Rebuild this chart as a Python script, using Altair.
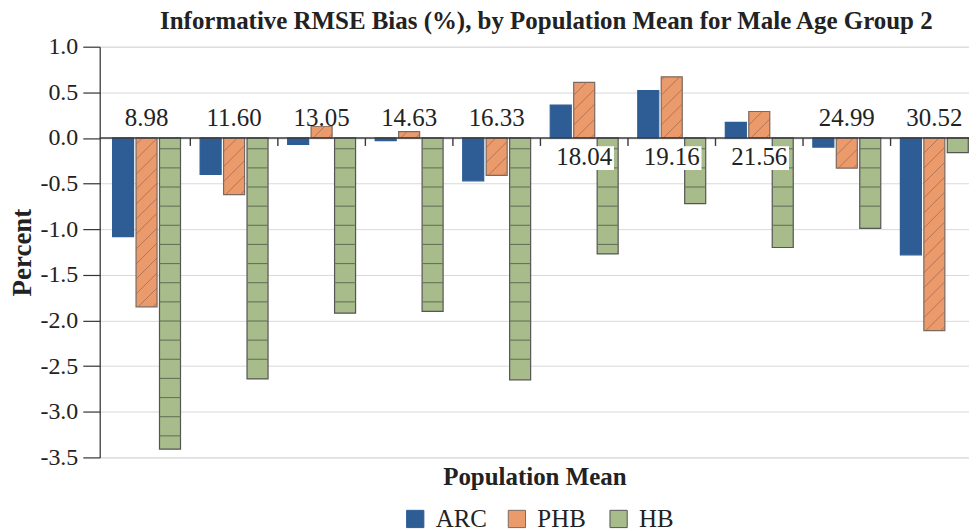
import altair as alt
import pandas as pd

# ---------------- data ----------------
categories = ["8.98", "11.60", "13.05", "14.63", "16.33", "18.04", "19.16", "21.56", "24.99", "30.52"]
series = ["ARC", "PHB", "HB"]
arc = [-1.08, -0.40, -0.07, -0.03, -0.47, 0.36, 0.52, 0.17, -0.10, -1.28]
phb = [-1.85, -0.62, 0.13, 0.07, -0.41, 0.61, 0.67, 0.29, -0.33, -2.11]
hb = [-3.41, -2.64, -1.92, -1.90, -2.65, -1.27, -0.72, -1.20, -0.99, -0.16]
label_above = [True, True, True, True, True, False, False, False, True, True]
y_ticks = [1.0, 0.5, 0.0, -0.5, -1.0, -1.5, -2.0, -2.5, -3.0, -3.5]

# ---------------- style ----------------
fills = ["#2e5c94", "#eb9a6c", "#a7bb8b"]
strokes = ["#2e5c94", "#7a6a60", "#555555"]
FONT = "Liberation Serif"
W, H = 872, 412
Y_DOM = [-3.5, 1.0]
X_DOM = [-0.035, 9.896]
PX_X = W / (X_DOM[1] - X_DOM[0])
PX_Y = H / (Y_DOM[1] - Y_DOM[0])
OFFS = {"ARC": -0.268, "PHB": 0.0, "HB": 0.268}
HALF = 0.12

# ---------------- derived tables ----------------
rows = []
for i, c in enumerate(categories):
    for s, vals in zip(series, [arc, phb, hb]):
        xc = i + 0.5 + OFFS[s]
        rows.append(dict(cat=c, series=s, x0=xc - HALF, x1=xc + HALF, y0=0.0, y1=vals[i]))
bars = pd.DataFrame(rows)

# diagonal hatch for PHB
hatch = []
w_px = 2 * HALF * PX_X
SP = 15.0
for i, v in enumerate(phb):
    xl = i + 0.5 + OFFS["PHB"] - HALF
    hpx = abs(v) * PX_Y
    yb = min(0.0, v)
    c = -w_px + 4
    while c < hpx:
        u0 = max(0.0, -c)
        u1 = min(w_px, hpx - c)
        if u1 - u0 > 1.0:
            hatch.append(dict(hx0=xl + u0 / PX_X, hx1=xl + u1 / PX_X,
                              hy0=yb + (c + u0) / PX_Y, hy1=yb + (c + u1) / PX_Y))
        c += SP
hatch = pd.DataFrame(hatch)

# horizontal lines for HB
hl = []
for i, v in enumerate(hb):
    xc = i + 0.5 + OFFS["HB"]
    d = 10.8
    while d < abs(v) * PX_Y - 5:
        hl.append(dict(lx0=xc - HALF, lx1=xc + HALF, ly=-d / PX_Y if v < 0 else d / PX_Y))
        d += 19.2
hl = pd.DataFrame(hl)

bounds = pd.DataFrame({"b": [float(k) for k in range(1, len(categories))]})
bounds["t0"] = 0.0
bounds["t1"] = -8.0 / PX_Y

labels = pd.DataFrame({
    "cat": categories,
    "lx": [i + 0.5 for i in range(len(categories))],
    "ly": [0.22 if a else -0.21 for a in label_above],
})
labels["bx0"] = labels["lx"] - 0.34
labels["bx1"] = labels["lx"] + 0.34
labels["by0"] = [0.13 if a else -0.35 for a in label_above]
labels["by1"] = [0.36 if a else -0.09 for a in label_above]

# ---------------- encodings ----------------
xscale = alt.Scale(domain=X_DOM, nice=False, zero=False)
yscale = alt.Scale(domain=Y_DOM, nice=False, zero=False)
xaxis = alt.Axis(title="Population Mean", labels=False, ticks=False, domain=False, grid=False,
                 titleFont=FONT, titleFontSize=25, titleFontWeight="bold", titleColor="#222",
                 titlePadding=7)
yaxis = alt.Axis(title="Percent", values=y_ticks,
                 labelExpr="replace(format(datum.value, '.1f'), '\u2212', '-')",
                 tickSize=17, labelPadding=5, labelFont=FONT, labelFontSize=24, labelColor="#222",
                 domainColor="#333", tickColor="#333", domainWidth=1.2, tickWidth=1.2,
                 grid=True, gridColor="#d9d9d9", gridWidth=1,
                 titleFont=FONT, titleFontSize=27, titleFontWeight="bold", titleColor="#222",
                 titlePadding=3)


def X(f):
    return alt.X(f"{f}:Q", scale=xscale, axis=xaxis)


def Y(f):
    return alt.Y(f"{f}:Q", scale=yscale, axis=yaxis)


legend = alt.Legend(title=None, orient="none", legendX=304, legendY=461, direction="horizontal",
                    symbolType="square", symbolSize=300, symbolStrokeWidth=1,
                    labelFont=FONT, labelFontSize=25, labelColor="#222", labelOffset=8,
                    columnPadding=17, gridAlign="all", padding=0)

bar_layer = alt.Chart(bars).mark_rect(strokeWidth=1.2).encode(
    x=X("x0"), x2="x1", y=Y("y0"), y2="y1",
    color=alt.Color("series:N", scale=alt.Scale(domain=series, range=fills), legend=legend),
    stroke=alt.Stroke("series:N", scale=alt.Scale(domain=series, range=strokes), legend=legend),
)

hatch_layer = alt.Chart(hatch).mark_rule(color="#9a6650", strokeWidth=0.9, opacity=0.8).encode(
    x=X("hx0"), x2="hx1", y=Y("hy0"), y2="hy1")

hl_layer = alt.Chart(hl).mark_rule(color="#66725a", strokeWidth=1.1).encode(
    x=X("lx0"), x2="lx1", y=Y("ly"))

zero_layer = alt.Chart(pd.DataFrame({"z": [0.0]})).mark_rule(color="#3a3a3a", strokeWidth=1.4).encode(
    y=Y("z"))

tick_layer = alt.Chart(bounds).mark_rule(color="#3a3a3a", strokeWidth=1.4).encode(
    x=X("b"), y=Y("t0"), y2="t1")

box_layer = alt.Chart(labels).mark_rect(color="white").encode(
    x=X("bx0"), x2="bx1", y=Y("by0"), y2="by1")

text_layer = alt.Chart(labels).mark_text(font=FONT, fontSize=25, color="#222",
                                         align="center", baseline="middle").encode(
    x=X("lx"), y=Y("ly"), text="cat:N")

chart = alt.layer(bar_layer, hatch_layer, hl_layer, zero_layer, tick_layer, box_layer, text_layer).properties(
    width=W, height=H,
    title=alt.TitleParams("Informative RMSE Bias (%), by Population Mean for Male Age Group 2",
                          font=FONT, fontSize=25, fontWeight="bold", color="#222",
                          anchor="middle", frame="group", dx=12, offset=1),
    autosize=alt.AutoSizeParams(type="none"),
    padding={"left": 92, "top": 38, "right": 0, "bottom": 74},
).configure_view(stroke=None).configure(background="white")

chart.save("out.html", embed_options={"renderer": "svg", "actions": False})
